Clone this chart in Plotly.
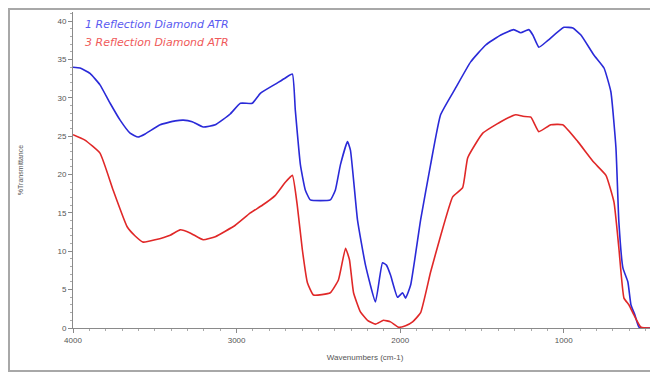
import plotly.graph_objects as go

series_names = ["1 Reflection Diamond ATR", "3 Reflection Diamond ATR"]

blue_x = [4000, 3957, 3896, 3835, 3773, 3712, 3651, 3602, 3559, 3467, 3375, 3326, 3271, 3204,
          3130, 3039, 2977, 2904, 2855, 2763, 2702, 2659, 2641, 2610, 2580, 2549, 2427, 2396,
          2365, 2322, 2304, 2261, 2212, 2151, 2108, 2084, 2059, 2016, 1985, 1967, 1936, 1875,
          1814, 1753, 1661, 1569, 1477, 1385, 1306, 1263, 1214, 1189, 1152, 1097, 999, 944,
          895, 816, 754, 712, 681, 663, 638, 608, 589, 565, 540, 497, 424]
blue_y = [34.0, 33.9, 33.2, 31.7, 29.3, 27.1, 25.4, 24.9, 25.3, 26.5, 27.0, 27.1, 26.9, 26.2,
          26.5, 27.9, 29.3, 29.3, 30.6, 31.8, 32.6, 33.1, 28.4, 21.3, 18.0, 16.7, 16.7, 18.0,
          21.3, 24.3, 23.2, 14.1, 8.2, 3.4, 8.5, 8.2, 6.9, 4.0, 4.6, 3.9, 5.6, 14.1,
          21.3, 27.8, 31.3, 34.7, 36.9, 38.2, 38.9, 38.5, 38.9, 38.2, 36.6, 37.5, 39.2, 39.1,
          38.2, 35.6, 33.9, 30.8, 23.5, 13.8, 7.8, 6.0, 3.0, 1.7, 0.1, 0.0, 0.0]

red_x = [4000, 3927, 3835, 3755, 3669, 3620, 3571, 3498, 3406, 3345, 3284, 3204, 3130, 3008,
         2916, 2843, 2763, 2702, 2659, 2628, 2598, 2567, 2530, 2427, 2377, 2334, 2310, 2285,
         2243, 2200, 2151, 2102, 2059, 2010, 1967, 1924, 1875, 1814, 1753, 1679, 1618, 1587,
         1495, 1385, 1293, 1250, 1201, 1152, 1079, 1006, 914, 816, 742, 693, 663, 632, 601,
         571, 528, 424]
red_y = [25.2, 24.5, 22.8, 18.0, 13.2, 12.0, 11.2, 11.5, 12.1, 12.8, 12.4, 11.5, 11.9, 13.4,
         15.0, 16.0, 17.3, 19.0, 19.9, 15.8, 10.2, 5.9, 4.3, 4.6, 6.3, 10.4, 8.9, 4.6,
         2.1, 1.0, 0.5, 1.0, 0.8, 0.1, 0.3, 0.8, 2.0, 7.3, 12.0, 17.1, 18.3, 22.2,
         25.4, 26.9, 27.8, 27.6, 27.5, 25.6, 26.5, 26.5, 24.3, 21.6, 19.9, 16.4, 10.4, 3.9, 3.0,
         1.7, 0.1, 0.0]

x_ticks = [4000, 3000, 2000, 1000]
y_ticks = [0, 5, 10, 15, 20, 25, 30, 35, 40]

line_colors = ["#2a2ad8", "#e02828"]
label_colors = ["#5a5af0", "#f05a5a"]

fig = go.Figure()
fig.add_trace(go.Scatter(x=blue_x, y=blue_y, mode="lines", name=series_names[0],
                         line=dict(color=line_colors[0], width=1.6, shape="spline", smoothing=0.4)))
fig.add_trace(go.Scatter(x=red_x, y=red_y, mode="lines", name=series_names[1],
                         line=dict(color=line_colors[1], width=1.6, shape="spline", smoothing=0.4)))

for i, name in enumerate(series_names):
    fig.add_annotation(text=name, xref="paper", yref="paper", x=0.017, y=0.962 - i * 0.06,
                       xanchor="left", yanchor="middle", showarrow=False,
                       font=dict(family="DejaVu Sans", size=11,
                                 color=label_colors[i], style="italic"))

# outer frame around the chart (the page's 8px body margin offsets the figure)
fig.add_shape(type="rect", xref="paper", yref="paper", x0=-0.1096, x1=1.02, y0=-0.136, y1=1.0095,
              line=dict(color="#a8a8a8", width=2), fillcolor="rgba(0,0,0,0)", layer="below")

axis_font = dict(family="Liberation Sans, Arial", size=8, color="#555555")

fig.update_layout(
    width=650, height=371,
    margin=dict(l=65, r=1, t=4, b=51, autoexpand=False),
    paper_bgcolor="white", plot_bgcolor="white",
    showlegend=False,
    xaxis=dict(range=[4000, 430], tickvals=x_ticks, ticktext=[str(v) for v in x_ticks],
               automargin=False,
               showgrid=False, zeroline=False, showline=True, linecolor="#8a8a8a", linewidth=1,
               ticks="outside", ticklen=4, tickcolor="#8a8a8a", tickfont=axis_font,
               minor=dict(dtick=100, ticks="outside", ticklen=2, tickcolor="#aaaaaa"),
               title=dict(text="Wavenumbers (cm-1)", font=axis_font, standoff=10)),
    yaxis=dict(range=[0, 41.2], tickvals=y_ticks, ticktext=[str(v) for v in y_ticks],
               automargin=False,
               showgrid=False, zeroline=False, showline=True, linecolor="#8a8a8a", linewidth=1,
               ticks="outside", ticklen=4, tickcolor="#8a8a8a", tickfont=axis_font,
               minor=dict(dtick=1, ticks="outside", ticklen=2, tickcolor="#aaaaaa"),
               title=dict(text="%Transmittance", font=dict(family="Liberation Sans, Arial", size=7,
                                                            color="#555555"), standoff=33)),
)

fig.write_html("out.html")
